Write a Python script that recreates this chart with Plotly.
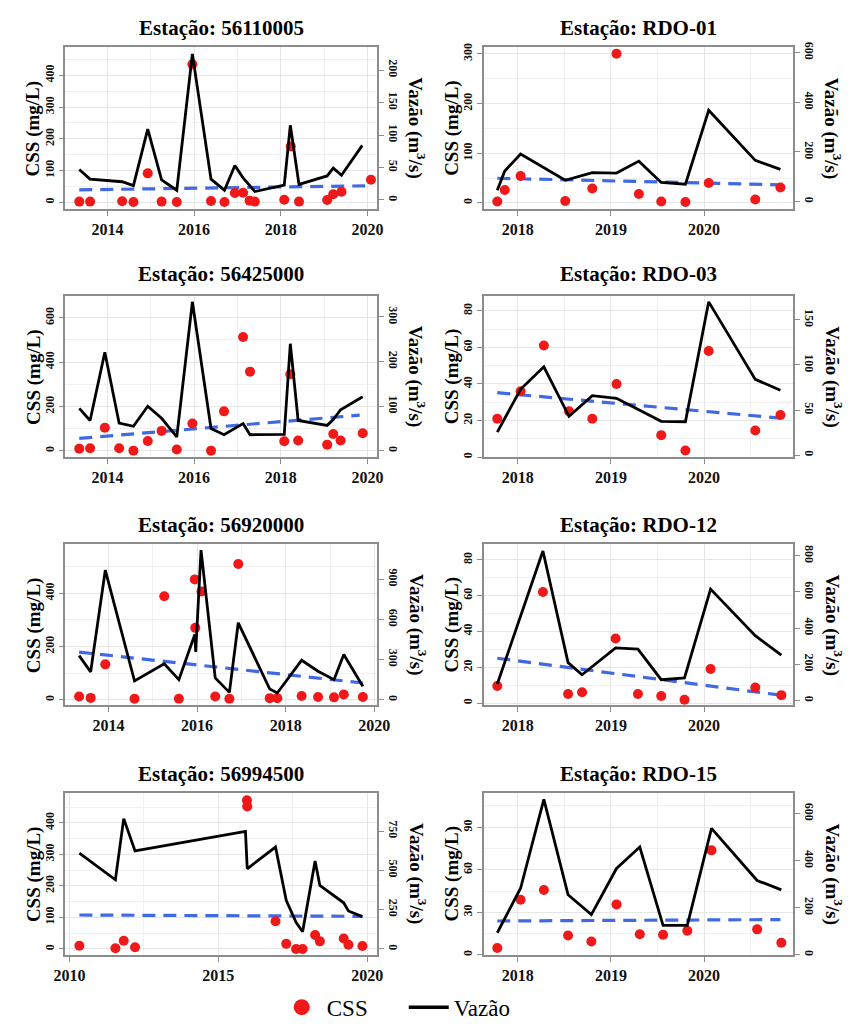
import plotly.graph_objects as go

# ------------------------------------------------------------------ data
# Station 56110005
t_56110005_css = [2013.35, 2013.60, 2014.34, 2014.60, 2014.93, 2015.25, 2015.60, 2015.96, 2016.39, 2016.70,
                  2016.94, 2017.13, 2017.28, 2017.40, 2018.08, 2018.23, 2018.42, 2019.07, 2019.21, 2019.40, 2020.08]
css_56110005 = [2, 2, 3, 1, 91, 2, 1, 435, 4, 1, 29, 30, 5, 2, 8, 176, 2, 7, 25, 33, 71]
t_56110005_q = [2013.35, 2013.60, 2014.34, 2014.60, 2014.93, 2015.25, 2015.60, 2015.96, 2016.39, 2016.70,
                2016.94, 2017.13, 2017.40, 2018.08, 2018.22, 2018.42, 2019.07, 2019.21, 2019.40, 2019.88]
q_56110005 = [47, 32, 28, 22, 109, 31, 15, 225, 32, 15, 53, 34, 13, 23, 115, 24, 37, 49, 38, 84]
trend_t_56110005 = [2013.35, 2020.05]
trend_56110005 = [39, 52]

# Station RDO-01
t_RDO01 = [2017.78, 2017.86, 2018.03, 2018.51, 2018.80, 2019.06, 2019.30, 2019.54, 2019.80, 2020.05, 2020.55, 2020.82]
css_RDO01 = [3, 26, 54, 4, 29, 300, 18, 3, 2, 40, 7, 31]
q_RDO01 = [46, 123, 192, 86, 117, 115, 163, 77, 70, 368, 166, 130]
trend_t_RDO01 = [2017.78, 2020.82]
trend_RDO01 = [49.6, 36.4]

# Station 56425000
t_56425000 = [2013.35, 2013.60, 2013.94, 2014.27, 2014.60, 2014.93, 2015.25, 2015.60, 2015.96, 2016.39,
              2016.69, 2017.13, 2017.29, 2018.08, 2018.22, 2018.40, 2019.07, 2019.21, 2019.38, 2019.89]
css_56425000 = [10, 12, 104, 12, 1, 44, 90, 6, 123, 1, 178, 513, 357, 43, 345, 47, 28, 76, 47, 79]
q_56425000 = [95, 68, 221, 62, 55, 100, 73, 31, 334, 50, 36, 61, 36, 37, 240, 68, 57, 70, 92, 121]
trend_t_56425000 = [2013.35, 2019.82]
trend_56425000 = [56, 161]

# Station RDO-03
t_RDO03 = [2017.78, 2018.03, 2018.28, 2018.55, 2018.80, 2019.06, 2019.54, 2019.80, 2020.05, 2020.55, 2020.82]
css_RDO03 = [21, 36, 61, 25, 21, 40, 12, 3.6, 58, 14.5, 23]
q_RDO03 = [25.5, 73, 98, 43, 66, 63, 37.5, 37, 170, 84, 72]
trend_t_RDO03 = [2017.78, 2020.82]
trend_RDO03 = [35.2, 21.3]

# Station 56920000
t_56920000_css = [2013.34, 2013.60, 2013.93, 2014.59, 2015.26, 2015.59, 2015.95, 2015.96, 2016.10, 2016.41,
                  2016.73, 2016.93, 2017.64, 2017.81, 2018.36, 2018.73, 2019.09, 2019.31, 2019.74]
css_56920000 = [12, 7, 133, 4, 389, 4, 452, 270, 407, 12, 4, 510, 6, 6, 14, 10, 9, 20, 10]
t_56920000_q = [2013.34, 2013.60, 2013.93, 2014.59, 2015.26, 2015.59, 2015.95, 2015.97, 2016.09, 2016.41,
                2016.73, 2016.93, 2017.64, 2017.81, 2018.36, 2018.73, 2019.09, 2019.31, 2019.74]
q_56920000 = [330, 208, 968, 140, 268, 150, 488, 358, 1118, 163, 55, 575, 80, 50, 295, 213, 150, 338, 100]
trend_t_56920000 = [2013.34, 2019.74]
trend_56920000 = [179, 63]

# Station RDO-12
t_RDO12 = [2017.78, 2018.27, 2018.54, 2018.69, 2019.05, 2019.29, 2019.54, 2019.79, 2020.07, 2020.55, 2020.83]
css_RDO12 = [9.5, 62, 5, 6, 36, 5, 3.9, 1.8, 19, 8.6, 4.4]
q_RDO12 = [91, 827, 209, 142, 291, 284, 115, 125, 616, 358, 251]
trend_t_RDO12 = [2017.78, 2020.82]
trend_RDO12 = [25, 4.4]

# Station 56994500
t_56994500_css = [2010.33, 2011.54, 2011.82, 2012.20, 2015.96, 2015.97, 2016.92, 2017.28, 2017.61, 2017.83,
                  2018.25, 2018.41, 2019.21, 2019.37, 2019.84]
css_56994500 = [10, 2, 26, 5, 472, 452, 88, 16, 0, 0, 44, 24, 33, 13, 9]
t_56994500_q = [2010.33, 2011.54, 2011.82, 2012.20, 2015.91, 2015.97, 2016.92, 2017.28, 2017.61, 2017.83,
                2018.25, 2018.41, 2019.21, 2019.37, 2019.84]
q_56994500 = [610, 440, 829, 623, 748, 510, 648, 310, 169, 110, 560, 404, 294, 242, 206]
trend_t_56994500 = [2010.33, 2019.84]
trend_56994500 = [107.6, 103.4]

# Station RDO-15
t_RDO15 = [2017.78, 2018.03, 2018.28, 2018.54, 2018.79, 2019.06, 2019.31, 2019.56, 2019.82, 2020.08, 2020.57, 2020.83]
css_RDO15 = [4.9, 38.9, 45.8, 13.7, 9.5, 35.6, 14.6, 14.2, 17, 73.7, 18, 8.6]
q_RDO15 = [94, 283, 660, 255, 171, 367, 458, 125, 125, 537, 316, 276]
trend_t_RDO15 = [2017.78, 2020.82]
trend_RDO15 = [23.9, 24.9]

station_names = ["56110005", "RDO-01", "56425000", "RDO-03", "56920000", "RDO-12", "56994500", "RDO-15"]

# ------------------------------------------------------------------ styling / layout
W, H = 855, 1029
FONT = "'Liberation Serif', 'Times New Roman', Times, 'DejaVu Serif', serif"
RED = "#F01818"
BLUE = "#4169E1"
FRAME = "#8C8C8C"
GRID = "#E6E6E6"
GRID_MINOR = "#F1F1F1"

series = [
    (t_56110005_css, css_56110005, t_56110005_q, q_56110005, trend_t_56110005, trend_56110005),
    (t_RDO01, css_RDO01, t_RDO01, q_RDO01, trend_t_RDO01, trend_RDO01),
    (t_56425000, css_56425000, t_56425000, q_56425000, trend_t_56425000, trend_56425000),
    (t_RDO03, css_RDO03, t_RDO03, q_RDO03, trend_t_RDO03, trend_RDO03),
    (t_56920000_css, css_56920000, t_56920000_q, q_56920000, trend_t_56920000, trend_56920000),
    (t_RDO12, css_RDO12, t_RDO12, q_RDO12, trend_t_RDO12, trend_RDO12),
    (t_56994500_css, css_56994500, t_56994500_q, q_56994500, trend_t_56994500, trend_56994500),
    (t_RDO15, css_RDO15, t_RDO15, q_RDO15, trend_t_RDO15, trend_RDO15),
]

rows_px = [(42.3, 207.3), (295, 458.3), (546.7, 710), (798.5, 963)]
cols_px = [(55, 376), (486, 805)]
title_y_px = [23, 273, 527, 780]

# per panel: x range, x tick0, x dtick, css range, css dtick, q range, q dtick
axes_cfg = [
    ([2013.03, 2020.22], 2014, 2, [-22.8, 490], 100, [-14.7, 236], 50),
    ([2017.635, 2020.96], 2018, 1, [-13.2, 314], 100, [-31.8, 624], 200),
    ([2013.03, 2020.22], 2014, 2, [-28, 698], 200, [-14, 347], 100),
    ([2017.635, 2020.96], 2018, 1, [0, 88.1], 20, [-2.2, 176.5], 50),
    ([2013.03, 2020.06], 2014, 2, [-21, 584], 200, [-42, 1162], 300),
    ([2017.635, 2020.96], 2018, 1, [-1.3, 88.6], 20, [-27, 864], 200),
    ([2009.86, 2020.33], 2010, 5, [-19, 496], 100, [-37.5, 994], 250),
    ([2017.635, 2020.96], 2018, 1, [0, 114.4], 30, [0, 689], 200),
]

fig = go.Figure()
layout = dict(
    width=W, height=H, autosize=False,
    margin=dict(l=0, r=0, t=0, b=0),
    paper_bgcolor="white", plot_bgcolor="white",
    font=dict(family=FONT, color="black"),
    annotations=[],
)

tick_font_x = dict(family=FONT, size=16, color="#111111", weight=700)
tick_font_y = dict(family=FONT, size=12, color="#111111", weight=700)

for i, (tc, css, tq, q, tt, tv) in enumerate(series):
    k = i + 1
    row, col = divmod(i, 2)
    xr, xt0, xdt, yr, ydt, y2r, y2dt = axes_cfg[i]
    xname = "x" if k == 1 else f"x{k}"
    yname = "y" if k == 1 else f"y{k}"
    y2name = f"y{k + 8}"

    x0, x1 = cols_px[col]
    top, bot = rows_px[row]
    xdom = [x0 / W, x1 / W]
    ydom = [1 - bot / H, 1 - top / H]

    fig.add_trace(go.Scatter(x=tt, y=tv, xaxis=xname, yaxis=yname, mode="lines",
                             line=dict(color=BLUE, width=3.2, dash="13px,8px"),
                             showlegend=False, hoverinfo="skip"))
    fig.add_trace(go.Scatter(x=tc, y=css, xaxis=xname, yaxis=yname, mode="markers",
                             marker=dict(color=RED, size=10, line=dict(width=0)),
                             showlegend=False, name="CSS"))
    fig.add_trace(go.Scatter(x=tq, y=q, xaxis=xname, yaxis=y2name, mode="lines",
                             line=dict(color="black", width=2.8),
                             showlegend=False, name="Vazão"))

    xkey = "xaxis" if k == 1 else f"xaxis{k}"
    ykey = "yaxis" if k == 1 else f"yaxis{k}"
    y2key = f"yaxis{k + 8}"

    layout[xkey] = dict(
        domain=xdom, anchor=yname, range=xr, tickmode="linear", tick0=xt0, dtick=xdt,
        tickformat="d", showgrid=True, gridcolor=GRID, gridwidth=1,
        minor=dict(tick0=xt0, dtick=xdt / 2, showgrid=True, gridcolor=GRID_MINOR, gridwidth=1),
        ticks="outside", ticklen=5, tickcolor=FRAME, tickwidth=1.2,
        showline=True, linecolor=FRAME, linewidth=1.5, mirror=True,
        zeroline=False, tickfont=tick_font_x, fixedrange=True,
    )
    layout[ykey] = dict(
        domain=ydom, anchor=xname, range=yr, tickmode="linear", tick0=0, dtick=ydt,
        showgrid=True, gridcolor=GRID, gridwidth=1,
        minor=dict(tick0=0, dtick=ydt / 2, showgrid=True, gridcolor=GRID_MINOR, gridwidth=1),
        ticks="outside", ticklen=5, tickcolor=FRAME, tickwidth=1.2,
        showline=True, linecolor=FRAME, linewidth=1.5, mirror=True,
        zeroline=False, tickangle=-90, tickfont=tick_font_y, fixedrange=True,
    )
    layout[y2key] = dict(
        overlaying=yname, anchor=xname, side="right", range=y2r, tickmode="linear", tick0=0, dtick=y2dt,
        showgrid=False, ticks="outside", ticklen=5, tickcolor=FRAME, tickwidth=1.2,
        showline=True, linecolor=FRAME, linewidth=1.5,
        zeroline=False, tickangle=90, tickfont=tick_font_y, fixedrange=True,
    )

    cy = 1 - (top + bot) / 2 / H
    # panel title
    layout["annotations"].append(dict(
        text=f"Estação: {station_names[i]}", xref="paper", yref="paper",
        x=(x0 + x1) / 2 / W, y=1 - title_y_px[row] / H, xanchor="center", yanchor="middle",
        showarrow=False, font=dict(family=FONT, size=21, color="black", weight=700)))
    # left axis title
    layout["annotations"].append(dict(
        text="CSS (mg/L)", xref="paper", yref="paper",
        x=(x0 - 33) / W, y=cy, xanchor="center", yanchor="middle", textangle=-90,
        showarrow=False, font=dict(family=FONT, size=19, color="black", weight=700)))
    # right axis title
    layout["annotations"].append(dict(
        text="Vazão (m<sup>3</sup>/s)", xref="paper", yref="paper",
        x=(x1 + 41) / W, y=cy, xanchor="center", yanchor="middle", textangle=90,
        showarrow=False, font=dict(family=FONT, size=19, color="black", weight=700)))

# legend entries
fig.add_trace(go.Scatter(x=[None], y=[None], xaxis="x", yaxis="y", mode="markers",
                         marker=dict(color=RED, size=16), name="CSS", showlegend=True))
fig.add_trace(go.Scatter(x=[None], y=[None], xaxis="x", yaxis="y", mode="lines",
                         line=dict(color="black", width=3.5), name="Vazão", showlegend=True))

layout["showlegend"] = True
layout["legend"] = dict(orientation="h", x=0.472, xanchor="center", y=1 - 1016 / H, yanchor="middle",
                        font=dict(family=FONT, size=23, color="black"), bgcolor="rgba(0,0,0,0)",
                        itemwidth=40, entrywidth=72, entrywidthmode="pixels", tracegroupgap=0)

fig.update_layout(**layout)
fig.write_html("out.html")
